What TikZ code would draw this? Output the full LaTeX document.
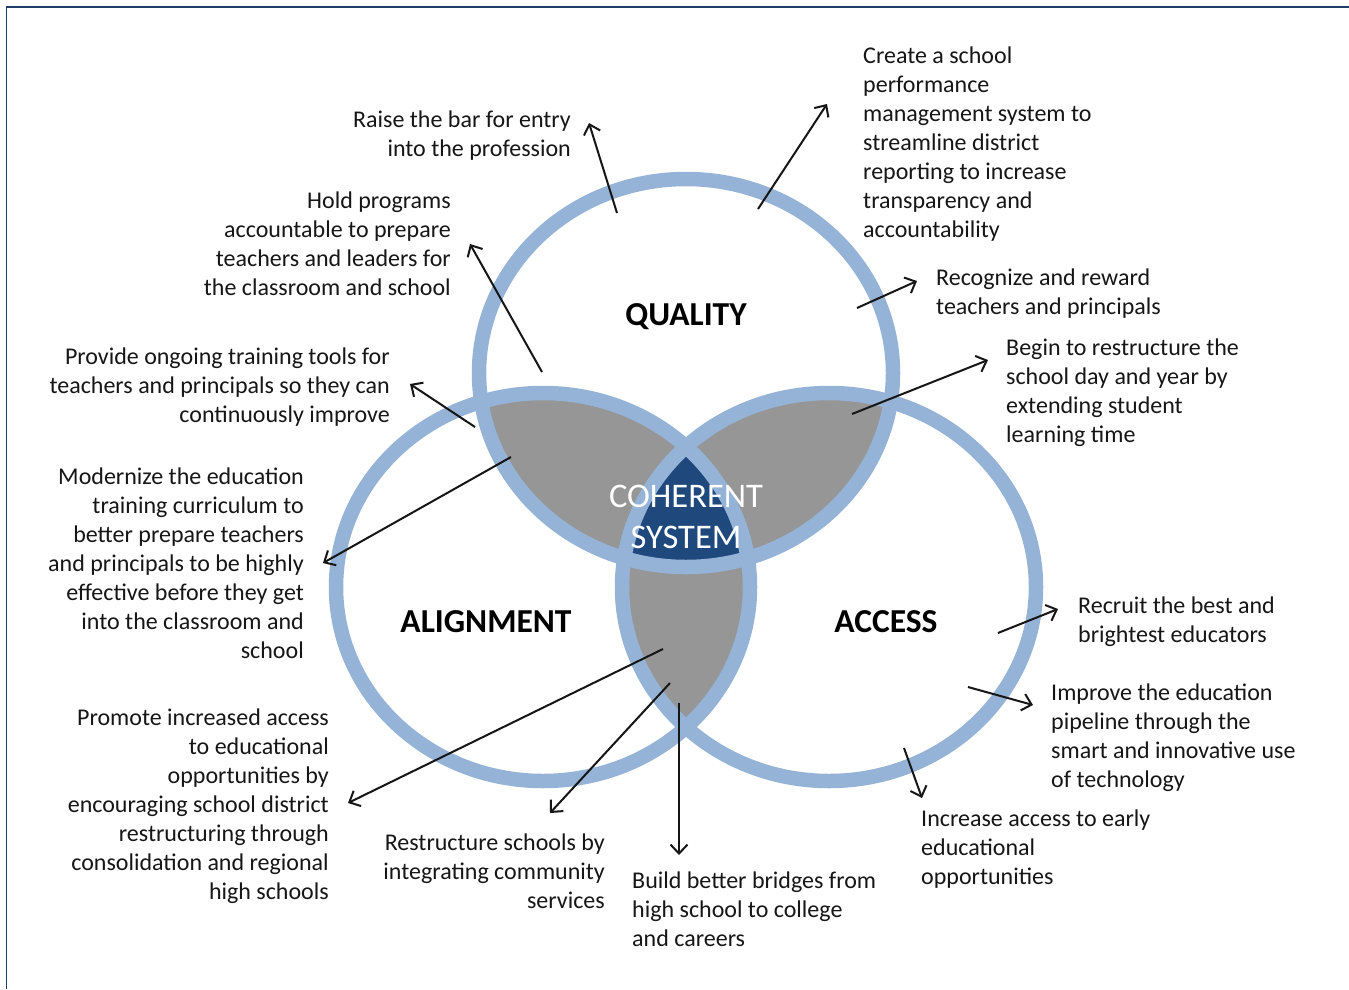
\documentclass[tikz,border=0pt]{standalone}
\usepackage{fontspec}
\setmainfont{Carlito}
\usetikzlibrary{arrows.meta}
\definecolor{ringc}{RGB}{149,179,215}
\definecolor{lensc}{RGB}{150,150,150}
\definecolor{corec}{RGB}{31,73,125}
\definecolor{framec}{RGB}{31,63,106}
\definecolor{inkc}{RGB}{22,22,22}
\begin{document}
\begin{tikzpicture}[x=1pt,y=-1pt,
  lbl/.style={inner sep=0pt, text=inkc, font=\fontsize{24}{29}\selectfont},
  lblR/.style={lbl, align=right, anchor=north east},
  lblL/.style={lbl, align=left, anchor=north west},
  head/.style={inner sep=0pt, text=black, font=\fontsize{33.5}{40}\selectfont\bfseries},
  arr/.style={draw=inkc, line width=2pt, -{Straight Barb[length=9pt,width=17pt]}},
  ringline/.style={draw=ringc, line width=14.5pt}]
\useasboundingbox (0,0) rectangle (1349,989);
\fill[white] (0,0) rectangle (1349,989);
% frame (left and top only)
\draw[framec, line width=1.6pt] (6.5,989) -- (6.5,7) -- (1349,7);

% centres
\coordinate (Q) at (686,373);
\coordinate (A) at (543,587);
\coordinate (C) at (829,587);
\def\rx{207pt}\def\ry{194pt}

% pairwise overlaps
\begin{scope}
  \clip (Q) ellipse [x radius=\rx, y radius=\ry];
  \fill[lensc] (A) ellipse [x radius=\rx, y radius=\ry];
  \fill[lensc] (C) ellipse [x radius=\rx, y radius=\ry];
\end{scope}
\begin{scope}
  \clip (A) ellipse [x radius=\rx, y radius=\ry];
  \fill[lensc] (C) ellipse [x radius=\rx, y radius=\ry];
\end{scope}
% triple overlap
\begin{scope}
  \clip (Q) ellipse [x radius=\rx, y radius=\ry];
  \clip (A) ellipse [x radius=\rx, y radius=\ry];
  \fill[corec] (C) ellipse [x radius=\rx, y radius=\ry];
\end{scope}
% rings
\draw[ringline] (Q) ellipse [x radius=\rx, y radius=\ry];
\draw[ringline] (A) ellipse [x radius=\rx, y radius=\ry];
\draw[ringline] (C) ellipse [x radius=\rx, y radius=\ry];

% headings
\node[head] (quality) at (686,317) {QUALITY};
\node[head] (alignment) at (486,622) {ALIGNMENT};
\node[head] (access) at (886,622) {ACCESS};
\node[inner sep=0pt, text=white, align=center, font=\fontsize{34.5}{41}\selectfont] (coherent) at (686,517) {COHERENT\\SYSTEM};

% labels
\node[lblR] (raise) at (571,111) {Raise the bar for entry\\into the profession};
\node[lblR] (hold) at (451,192) {Hold programs\\accountable to prepare\\teachers and leaders for\\the classroom and school};
\node[lblR] (provide) at (390,348) {Provide ongoing training tools for\\teachers and principals so they can\\continuously improve};
\node[lblR] (modern) at (304,468) {Modernize the education\\training curriculum to\\better prepare teachers\\and principals to be highly\\effective before they get\\into the classroom and\\school};
\node[lblR] (promote) at (329,709) {Promote increased access\\to educational\\opportunities by\\encouraging school district\\restructuring through\\consolidation and regional\\high schools};
\node[lblR] (restruct) at (605,834) {Restructure schools by\\integrating community\\services};
\node[lblL] (bridges) at (632,872) {Build better bridges from\\high school to college\\and careers};
\node[lblL] (early) at (921,810) {Increase access to early\\educational\\opportunities};
\node[lblL] (pipeline) at (1051,684) {Improve the education\\pipeline through the\\smart and innovative use\\of technology};
\node[lblL] (recruit) at (1078,597) {Recruit the best and\\brightest educators};
\node[lblL] (begin) at (1006,339) {Begin to restructure the\\school day and year by\\extending student\\learning time};
\node[lblL] (recognize) at (936,269) {Recognize and reward\\teachers and principals};
\node[lblL] (create) at (863,47) {Create a school\\performance\\management system to\\streamline district\\reporting to increase\\transparency and\\accountability};

% arrow ends
\coordinate (s1) at (617,213);  \coordinate (t1) at (589,123);
\coordinate (s2) at (758,209);  \coordinate (t2) at (827,104);
\coordinate (s3) at (542,372);  \coordinate (t3) at (470,244);
\coordinate (s4) at (857,308);  \coordinate (t4) at (917,281);
\coordinate (s5) at (475,427);  \coordinate (t5) at (410,384);
\coordinate (s6) at (852,414);  \coordinate (t6) at (988,360);
\coordinate (s7) at (511,457);  \coordinate (t7) at (323,563);
\coordinate (s8) at (663,649);  \coordinate (t8) at (348,803);
\coordinate (s9) at (670,683);  \coordinate (t9) at (550,813);
\coordinate (s10) at (679,703); \coordinate (t10) at (679,855);
\coordinate (s11) at (998,633); \coordinate (t11) at (1058,609);
\coordinate (s12) at (968,687); \coordinate (t12) at (1033,705);
\coordinate (s13) at (904,748); \coordinate (t13) at (922,798);

\foreach \i in {1,...,13} { \draw[arr] (s\i) -- (t\i); }
\end{tikzpicture}
\end{document}
